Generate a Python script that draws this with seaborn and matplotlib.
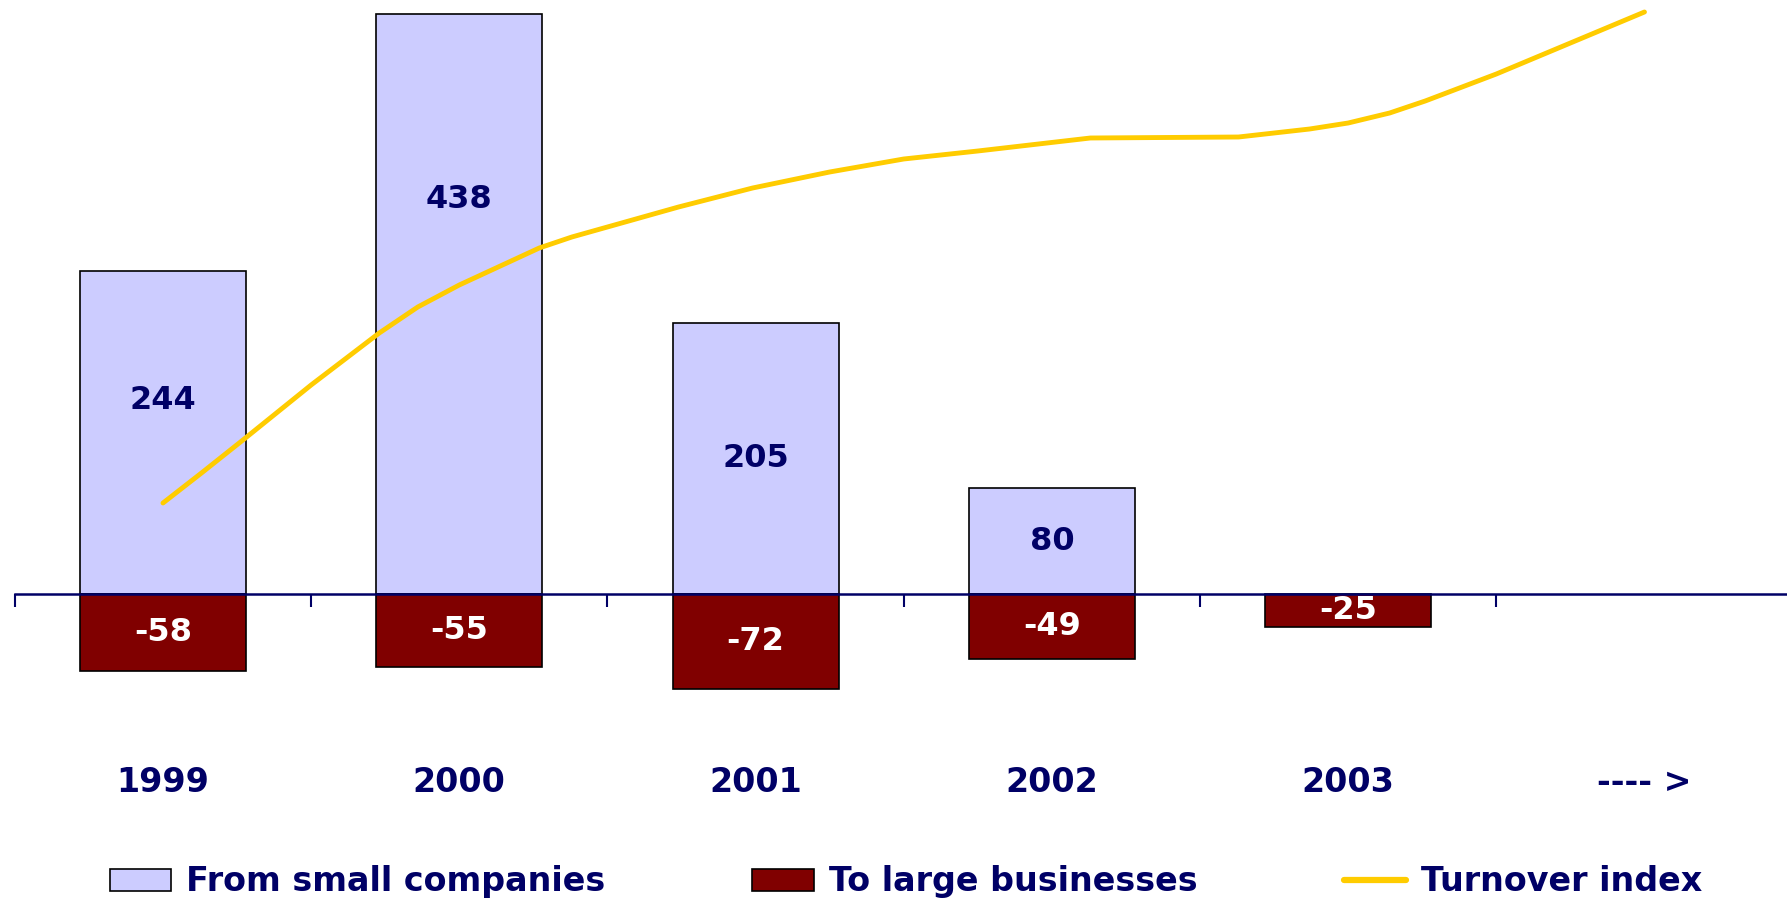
import pandas as pd
import matplotlib
matplotlib.use("Agg")
import matplotlib.pyplot as plt
from matplotlib.patches import Patch
from matplotlib.lines import Line2D
import seaborn as sns

# data
years = ["1999", "2000", "2001", "2002", "2003", "---- >"]
small_companies = [244, 438, 205, 80, None, None]
large_businesses = [-58, -55, -72, -49, -25, None]

# turnover index (no scale shown, relative units), time in fractional years
turnover_t = [1999.00, 1999.13, 1999.27, 1999.50, 1999.73, 1999.86, 2000.00,
              2000.27, 2000.38, 2000.74, 2000.99, 2001.25, 2001.50, 2001.75,
              2002.13, 2002.63, 2002.87, 2003.00, 2003.14, 2003.26, 2003.50, 2004.00]
turnover_idx = [100.0, 103.0, 106.3, 111.8, 117.0, 119.6, 121.8,
                125.5, 126.6, 129.6, 131.5, 133.1, 134.4, 135.2,
                136.5, 136.6, 137.4, 138.0, 139.0, 140.2, 142.9, 149.1]

navy = "#000066"
light = "#CCCCFF"
dark = "#800000"
yellow = "#FFCC00"

df = pd.DataFrame({
    "year": years * 2,
    "value": small_companies + large_businesses,
    "series": ["From small companies"] * 6 + ["To large businesses"] * 6,
})
line_df = pd.DataFrame({"pos": [t - 1999 for t in turnover_t], "index": turnover_idx})

sns.set_style("white")
plt.rcParams["font.family"] = ["DejaVu Sans"]

fig = plt.figure(figsize=(17.87, 9.06), dpi=100)
ax = fig.add_axes([0, 0.2053, 1, 0.7947])

sns.barplot(data=df, x="year", y="value", hue="series", order=years, dodge=False,
            palette={"From small companies": light, "To large businesses": dark},
            saturation=1, width=0.56, edgecolor="black", linewidth=1.2, ax=ax,
            legend=False)

ax.set_xlim(-0.55, 5.481)
ax.set_ylim(-95.1, 448.5)
for s in ["top", "right", "left"]:
    ax.spines[s].set_visible(False)
ax.spines["bottom"].set_position(("data", 0))
ax.spines["bottom"].set_bounds(-0.5, 5.5)
ax.spines["bottom"].set_color(navy)
ax.spines["bottom"].set_linewidth(1.8)
ax.set_yticks([])
ax.set_xlabel("")
ax.set_ylabel("")
ax.tick_params(axis="x", which="major", bottom=True, length=0, pad=124,
               labelsize=24, labelcolor=navy)
for lbl in ax.get_xticklabels():
    lbl.set_fontweight("bold")
ax.set_xticks([-0.5, 0.5, 1.5, 2.5, 3.5, 4.5], minor=True)
ax.tick_params(axis="x", which="minor", bottom=True, length=9, width=1.5,
               color=navy, direction="out")
# the leftmost tick is faint grey in the original
ax.xaxis.get_minor_ticks()[0].tick1line.set_color("#BBBBBB")

# value labels
pos_frac = [0.6, 0.68, 0.5, 0.5]
for i, v in enumerate(small_companies):
    if v:
        ax.text(i, v * pos_frac[i], str(v), ha="center", va="center",
                fontsize=23, fontweight="bold", color=navy)
for i, v in enumerate(large_businesses):
    if v:
        ax.text(i, v / 2, str(v), ha="center", va="center",
                fontsize=23, fontweight="bold", color="white")

# turnover index on a hidden secondary axis
ax2 = ax.twinx()
sns.lineplot(data=line_df, x="pos", y="index", color=yellow, linewidth=3.5,
             ax=ax2, legend=False)
ax2.set_ylim(78.3, 150.3)
ax2.set_xlim(-0.55, 5.481)
ax2.set_yticks([])
ax2.set_xlabel("")
ax2.set_ylabel("")
for s in ax2.spines.values():
    s.set_visible(False)

handles = [Patch(facecolor=light, edgecolor="black", linewidth=1.2),
           Patch(facecolor=dark, edgecolor="black", linewidth=1.2),
           Line2D([], [], color=yellow, linewidth=4.5)]
labels = ["From small companies", "To large businesses", "Turnover index"]
leg = fig.legend(handles, labels, loc="center", bbox_to_anchor=(0.507, 0.0265),
                 ncol=3, frameon=False, fontsize=24, handlelength=1.85,
                 handleheight=0.62, handletextpad=0.45, columnspacing=4.4)
for t in leg.get_texts():
    t.set_color(navy)
    t.set_fontweight("bold")

fig.savefig("out.png", dpi=100)
